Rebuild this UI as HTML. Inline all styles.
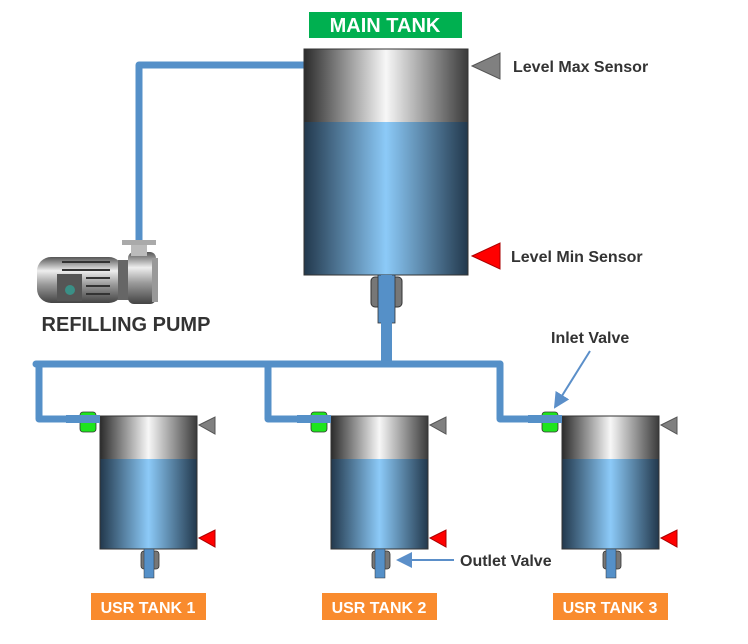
<!DOCTYPE html>
<html><head><meta charset="utf-8"><style>
html,body{margin:0;padding:0;background:#fff;}
svg text{font-family:"Liberation Sans",sans-serif;font-weight:bold;}
</style></head><body>
<svg width="748" height="639" viewBox="0 0 748 639" xmlns="http://www.w3.org/2000/svg">
<defs>
<linearGradient id="gr" x1="0" x2="1" y1="0" y2="0">
<stop offset="0" stop-color="#2b2b2b"/><stop offset="0.5" stop-color="#f7f7f7"/><stop offset="1" stop-color="#3a3a3a"/>
</linearGradient>
<linearGradient id="bl" x1="0" x2="1" y1="0" y2="0">
<stop offset="0" stop-color="#22384c"/><stop offset="0.5" stop-color="#8ccaf8"/><stop offset="1" stop-color="#22384c"/>
</linearGradient>
<linearGradient id="mt" x1="0" x2="0" y1="0" y2="1">
<stop offset="0" stop-color="#555"/><stop offset="0.3" stop-color="#eee"/><stop offset="0.6" stop-color="#999"/><stop offset="1" stop-color="#444"/>
</linearGradient>
<marker id="ah" markerWidth="8" markerHeight="8" refX="7" refY="4" orient="auto"><path d="M0,0 L8,4 L0,8 z" fill="#5b8fc9"/></marker>
</defs>

<g fill="none" stroke="#5590c8" stroke-width="7" stroke-linejoin="round" stroke-linecap="round">
<path d="M306,65 H139 V245"/>
<path d="M386,280 V364"/>
<path d="M36,364 H500"/>
<path d="M39,364 V419 H98"/>
<path d="M268,364 V419 H330"/>
<path d="M500,364 V419 H561"/>
</g>

<rect x="304" y="49" width="164" height="74" fill="url(#gr)"/>
<rect x="304" y="122" width="164" height="153" fill="url(#bl)"/>
<rect x="304" y="49" width="164" height="226" fill="none" stroke="#333" stroke-width="1"/>
<rect x="371" y="277" width="31" height="30" rx="4" fill="#777" stroke="#333"/>
<rect x="378" y="275" width="17" height="48" fill="#5590c8" stroke="#333" stroke-width="0.8"/>
<rect x="381" y="275" width="11" height="90" fill="#5590c8"/>
<rect x="309" y="12" width="153" height="26" fill="#00b050"/>
<text x="385" y="32" font-size="20" fill="#fff" text-anchor="middle">MAIN TANK</text>
<polygon points="472,66 500,53 500,79" fill="#808080" stroke="#555"/>
<polygon points="472,256 500,243 500,269" fill="#f00" stroke="#a00"/>
<text x="513" y="72" font-size="16" fill="#333">Level Max Sensor</text>
<text x="511" y="262" font-size="16" fill="#333">Level Min Sensor</text>

<rect x="37" y="257" width="86" height="46" rx="14" fill="url(#mt)"/>
<rect x="57" y="274" width="25" height="27" fill="#555"/>
<circle cx="70" cy="290" r="5" fill="#3a8f86"/>
<g stroke="#333" stroke-width="2"><line x1="62" y1="262" x2="110" y2="262"/><line x1="62" y1="270" x2="110" y2="270"/><line x1="86" y1="278" x2="110" y2="278"/><line x1="86" y1="286" x2="110" y2="286"/><line x1="86" y1="294" x2="110" y2="294"/></g>
<rect x="118" y="260" width="12" height="40" fill="#666"/>
<rect x="128" y="252" width="28" height="52" rx="6" fill="url(#mt)"/>
<rect x="131" y="244" width="16" height="12" fill="#bbb"/>
<rect x="122" y="240" width="34" height="5" fill="#aaa"/>
<rect x="152" y="258" width="6" height="44" fill="#999"/>
<text x="126" y="331" font-size="20" fill="#333" text-anchor="middle">REFILLING PUMP</text>

<g id="t1">
<rect x="100" y="416" width="97" height="44" fill="url(#gr)"/>
<rect x="100" y="459" width="97" height="90" fill="url(#bl)"/>
<rect x="100" y="416" width="97" height="133" fill="none" stroke="#333" stroke-width="1"/>
<rect x="80" y="412" width="16" height="20" rx="3" fill="#1ee51e" stroke="#333" stroke-width="0.8"/>
<rect x="66" y="415" width="34" height="8" fill="#5590c8"/>
<rect x="141" y="551" width="18" height="18" rx="3" fill="#777" stroke="#333" stroke-width="0.8"/>
<rect x="144" y="549" width="10" height="29" fill="#5590c8" stroke="#333" stroke-width="0.5"/>
<polygon points="199,425 215,417 215,434" fill="#808080" stroke="#555"/>
<polygon points="199,538 215,530 215,547" fill="#f00" stroke="#a00"/>
</g>
<use href="#t1" x="231"/>
<use href="#t1" x="462"/>

<rect x="91" y="593" width="115" height="27" fill="#f98b2e"/>
<text x="148" y="613" font-size="16" fill="#fff" text-anchor="middle">USR TANK 1</text>
<rect x="322" y="593" width="115" height="27" fill="#f98b2e"/>
<text x="379" y="613" font-size="16" fill="#fff" text-anchor="middle">USR TANK 2</text>
<rect x="553" y="593" width="115" height="27" fill="#f98b2e"/>
<text x="610" y="613" font-size="16" fill="#fff" text-anchor="middle">USR TANK 3</text>

<line x1="590" y1="351" x2="555" y2="407" stroke="#5b8fc9" stroke-width="2" marker-end="url(#ah)"/>
<text x="551" y="343" font-size="16" fill="#333">Inlet Valve</text>
<line x1="454" y1="560" x2="398" y2="560" stroke="#5b8fc9" stroke-width="2" marker-end="url(#ah)"/>
<text x="460" y="566" font-size="16" fill="#333">Outlet Valve</text>
</svg>
</body></html>
